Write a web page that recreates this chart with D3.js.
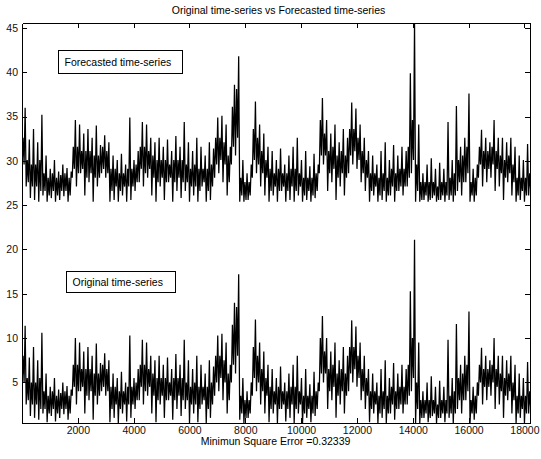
<!DOCTYPE html>
<html>
<head>
<meta charset="utf-8">
<script src="https://cdn.jsdelivr.net/npm/d3@7"></script>
<style>
  body { margin: 0; background: #fff; }
  svg text { font-family: "Liberation Sans", Arial, sans-serif; fill: #000; }
  .axis path, .axis line { stroke: #000; shape-rendering: crispEdges; }
  .axis text { font-size: 10.5px; fill: #111; }
</style>
</head>
<body>
<svg id="chart"></svg>
<script>
// each bin of 150 samples is read off the picture as: lowest value, highest value,
// and the dark core band (coreLow..coreHigh) where most of the samples sit
const binSize = 150;

const origLow = [
  4.5, 2.5, 1.2, 1.0, 0.8, 1.5, 0.5, 1.2, 0.6, 1.0,
  1.4, 0.8, 3.5, 2.5, 4.0, 1.5, 3.0, 0.8, 2.5, 4.0,
  3.5, 0.5, 1.0, 0.4, 1.5, 0.6, 1.0, 2.0, 3.0, 2.5,
  3.5, 1.5, 0.5, 2.5, 1.0, 3.0, 0.8, 2.0, 1.2, 2.0,
  0.4, 1.5, 0.5, 2.5, 0.4, 1.0, 3.5, 4.0, 3.0, 1.5,
  5.0, 6.0, 0.8, 0.4, 1.0, 3.5, 4.0, 2.5, 1.5, 0.5,
  1.5, 0.4, 2.0, 0.6, 1.0, 0.4, 1.5, 0.4, 1.0, 0.5,
  1.2, 4.0, 5.0, 2.0, 3.0, 1.0, 2.5, 1.5, 4.0, 5.0,
  4.5, 3.0, 2.0, 0.5, 1.5, 0.4, 1.0, 0.4, 1.5, 0.8,
  2.0, 1.5, 2.5, 4.0, 0.4, 0.4, 1.0, 0.5, 1.2, 0.4,
  1.0, 0.5, 1.0, 0.4, 2.0, 1.5, 3.0, 0.4, 0.8, 3.5,
  2.5, 3.0, 3.5, 2.0, 2.5, 1.0, 3.0, 1.5, 0.4, 1.0,
  0.4, 1.5
];
const origHigh = [
  11.4, 7.8, 9.0, 7.5, 10.6, 6.0, 4.5, 5.5, 4.2, 5.0,
  4.6, 4.2, 10.0, 9.5, 8.5, 9.0, 8.0, 9.4, 7.2, 8.3,
  7.5, 6.0, 5.5, 6.2, 5.0, 10.3, 5.5, 6.5, 9.8, 9.5,
  8.0, 7.5, 8.0, 7.0, 7.8, 6.5, 8.2, 7.0, 9.8, 7.5,
  6.5, 8.0, 7.0, 6.0, 7.5, 6.8, 10.3, 10.5, 9.5, 7.0,
  14.0, 17.2, 5.5, 4.0, 5.0, 12.1, 9.5, 8.5, 7.0, 6.5,
  5.5, 6.8, 5.0, 6.0, 7.0, 8.0, 5.5, 6.5, 4.8, 6.2,
  5.0, 12.5, 10.0, 8.5, 9.5, 7.5, 9.0, 8.0, 12.0, 11.3,
  9.5, 8.0, 6.5, 6.0, 5.0, 6.5, 7.5, 5.5, 7.2, 6.0,
  7.0, 6.5, 15.3, 21.1, 9.5, 4.0, 5.0, 5.7, 4.5, 5.2,
  4.5, 9.8, 5.5, 11.6, 7.0, 8.0, 13.0, 4.5, 5.0, 8.9,
  8.0, 7.5, 10.0, 8.0, 8.0, 7.5, 8.0, 7.0, 6.0, 5.5,
  7.3, 6.0
];
const origCoreLow = [
  5.0, 3.0, 2.5, 2.5, 2.0, 2.0, 1.5, 2.0, 1.5, 2.0,
  2.0, 1.5, 4.5, 4.0, 4.5, 3.5, 4.0, 3.5, 3.5, 4.5,
  4.0, 2.0, 2.5, 2.0, 2.5, 2.5, 2.5, 3.0, 4.5, 4.0,
  4.5, 3.5, 3.0, 3.5, 3.0, 3.5, 3.0, 3.5, 3.0, 3.0,
  2.5, 2.5, 2.0, 3.0, 2.0, 2.5, 5.0, 5.5, 5.0, 3.0,
  7.0, 8.0, 1.5, 1.0, 1.5, 5.5, 5.0, 4.0, 3.5, 2.0,
  2.5, 2.0, 2.5, 2.0, 2.5, 2.0, 2.5, 1.5, 2.0, 1.5,
  2.0, 6.0, 6.0, 4.0, 4.5, 3.5, 4.0, 3.5, 6.0, 6.5,
  5.5, 4.0, 3.5, 2.0, 2.5, 1.5, 2.0, 1.5, 2.5, 2.0,
  2.5, 2.5, 3.5, 5.5, 2.0, 1.0, 1.5, 1.0, 1.5, 1.0,
  1.5, 1.5, 1.5, 1.5, 3.0, 3.0, 4.0, 1.5, 1.5, 5.0,
  4.5, 4.5, 5.0, 4.5, 4.0, 3.5, 4.0, 3.0, 1.5, 2.0,
  1.5, 2.0
];
const origCoreHigh = [
  8.0, 5.5, 5.0, 5.0, 5.5, 4.0, 3.5, 4.0, 3.5, 3.8,
  4.0, 3.5, 7.0, 7.0, 6.5, 6.5, 6.5, 6.0, 6.0, 7.0,
  6.5, 4.5, 4.5, 4.0, 4.0, 4.5, 4.5, 5.0, 7.0, 7.0,
  6.5, 6.0, 5.5, 5.5, 5.5, 5.0, 5.5, 5.5, 5.5, 5.0,
  4.5, 5.0, 4.5, 4.5, 4.5, 5.0, 8.0, 8.0, 7.5, 6.0,
  11.5, 13.5, 3.5, 3.0, 3.0, 9.0, 8.0, 6.5, 5.5, 4.5,
  4.0, 4.5, 4.0, 4.0, 4.5, 4.5, 4.0, 3.5, 3.5, 3.5,
  4.0, 10.0, 8.5, 6.5, 7.0, 6.0, 6.5, 6.0, 9.0, 9.0,
  8.0, 6.5, 5.5, 4.0, 4.0, 3.5, 4.0, 3.5, 4.5, 4.0,
  4.5, 4.5, 7.0, 10.0, 5.0, 3.0, 3.0, 3.0, 3.0, 2.5,
  3.0, 3.0, 3.5, 4.0, 5.5, 6.0, 7.0, 3.0, 3.5, 7.0,
  6.5, 6.5, 7.0, 6.5, 6.0, 5.5, 6.0, 5.0, 3.5, 3.5,
  3.5, 4.0
];

const foreLow = [
  29.1, 27.1, 25.8, 25.6, 25.4, 26.1, 25.4, 25.8, 25.4, 25.6,
  26.0, 25.4, 28.1, 27.1, 28.6, 26.1, 27.6, 25.4, 27.1, 28.6,
  28.1, 25.4, 25.6, 25.4, 26.1, 25.4, 25.6, 26.6, 27.6, 27.1,
  28.1, 26.1, 25.4, 27.1, 25.6, 27.6, 25.4, 26.6, 25.8, 26.6,
  25.4, 26.1, 25.4, 27.1, 25.4, 25.6, 28.1, 28.6, 27.6, 26.1,
  29.6, 30.6, 25.4, 25.4, 25.6, 28.1, 28.6, 27.1, 26.1, 25.4,
  26.1, 25.4, 26.6, 25.4, 25.6, 25.4, 26.1, 25.4, 25.6, 25.4,
  25.8, 28.6, 29.6, 26.6, 27.6, 25.6, 27.1, 26.1, 28.6, 29.6,
  29.1, 27.6, 26.6, 25.4, 26.1, 25.4, 25.6, 25.4, 26.1, 25.4,
  26.6, 26.1, 27.1, 28.6, 25.4, 25.4, 25.6, 25.4, 25.8, 25.4,
  25.6, 25.4, 25.6, 25.4, 26.6, 26.1, 27.6, 25.4, 25.4, 28.1,
  27.1, 27.6, 28.1, 26.6, 27.1, 25.6, 27.6, 26.1, 25.4, 25.6,
  25.4, 26.1
];
const foreHigh = [
  36.0, 32.4, 33.6, 32.1, 35.2, 30.6, 29.1, 30.1, 28.8, 29.6,
  29.2, 28.8, 34.6, 34.1, 33.1, 33.6, 32.6, 34.0, 31.8, 32.9,
  32.1, 30.6, 30.1, 30.8, 29.6, 34.9, 30.1, 31.1, 34.4, 34.1,
  32.6, 32.1, 32.6, 31.6, 32.4, 31.1, 32.8, 31.6, 34.4, 32.1,
  31.1, 32.6, 31.6, 30.6, 32.1, 31.4, 34.9, 35.1, 34.1, 31.6,
  38.6, 41.8, 30.1, 28.6, 29.6, 36.7, 34.1, 33.1, 31.6, 31.1,
  30.1, 31.4, 29.6, 30.6, 31.6, 32.6, 30.1, 31.1, 29.4, 30.8,
  29.6, 37.1, 34.6, 33.1, 34.1, 32.1, 33.6, 32.6, 36.6, 35.9,
  34.1, 32.6, 31.1, 30.6, 29.6, 31.1, 32.1, 30.1, 31.8, 30.6,
  31.6, 31.1, 39.9, 45.7, 34.1, 28.6, 29.6, 30.3, 29.1, 29.8,
  29.1, 34.4, 30.1, 36.2, 31.6, 32.6, 37.6, 29.1, 29.6, 33.5,
  32.6, 32.1, 34.6, 32.6, 32.6, 32.1, 32.6, 31.6, 30.6, 30.1,
  31.9, 30.6
];
const foreCoreLow = [
  29.6, 27.6, 27.1, 27.1, 26.6, 26.6, 26.1, 26.6, 26.1, 26.6,
  26.6, 26.1, 29.1, 28.6, 29.1, 28.1, 28.6, 28.1, 28.1, 29.1,
  28.6, 26.6, 27.1, 26.6, 27.1, 27.1, 27.1, 27.6, 29.1, 28.6,
  29.1, 28.1, 27.6, 28.1, 27.6, 28.1, 27.6, 28.1, 27.6, 27.6,
  27.1, 27.1, 26.6, 27.6, 26.6, 27.1, 29.6, 30.1, 29.6, 27.6,
  31.6, 32.6, 26.1, 25.6, 26.1, 30.1, 29.6, 28.6, 28.1, 26.6,
  27.1, 26.6, 27.1, 26.6, 27.1, 26.6, 27.1, 26.1, 26.6, 26.1,
  26.6, 30.6, 30.6, 28.6, 29.1, 28.1, 28.6, 28.1, 30.6, 31.1,
  30.1, 28.6, 28.1, 26.6, 27.1, 26.1, 26.6, 26.1, 27.1, 26.6,
  27.1, 27.1, 28.1, 30.1, 26.6, 25.6, 26.1, 25.6, 26.1, 25.6,
  26.1, 26.1, 26.1, 26.1, 27.6, 27.6, 28.6, 26.1, 26.1, 29.6,
  29.1, 29.1, 29.6, 29.1, 28.6, 28.1, 28.6, 27.6, 26.1, 26.6,
  26.1, 26.6
];
const foreCoreHigh = [
  32.6, 30.1, 29.6, 29.6, 30.1, 28.6, 28.1, 28.6, 28.1, 28.4,
  28.6, 28.1, 31.6, 31.6, 31.1, 31.1, 31.1, 30.6, 30.6, 31.6,
  31.1, 29.1, 29.1, 28.6, 28.6, 29.1, 29.1, 29.6, 31.6, 31.6,
  31.1, 30.6, 30.1, 30.1, 30.1, 29.6, 30.1, 30.1, 30.1, 29.6,
  29.1, 29.6, 29.1, 29.1, 29.1, 29.6, 32.6, 32.6, 32.1, 30.6,
  36.1, 38.1, 28.1, 27.6, 27.6, 33.6, 32.6, 31.1, 30.1, 29.1,
  28.6, 29.1, 28.6, 28.6, 29.1, 29.1, 28.6, 28.1, 28.1, 28.1,
  28.6, 34.6, 33.1, 31.1, 31.6, 30.6, 31.1, 30.6, 33.6, 33.6,
  32.6, 31.1, 30.1, 28.6, 28.6, 28.1, 28.6, 28.1, 29.1, 28.6,
  29.1, 29.1, 31.6, 34.6, 29.6, 27.6, 27.6, 27.6, 27.6, 27.1,
  27.6, 27.6, 28.1, 28.6, 30.1, 30.6, 31.6, 27.6, 28.1, 31.6,
  31.1, 31.1, 31.6, 31.1, 30.6, 30.1, 30.6, 29.6, 28.1, 28.1,
  28.1, 28.6
];

const xDomain = [1, 18200];
const yDomain = [0.42, 45.56];
const xTicks = [2000, 4000, 6000, 8000, 10000, 12000, 14000, 16000, 18000];
const yTicks = [5, 10, 15, 20, 25, 30, 35, 40, 45];

const titleText = 'Original time-series vs Forecasted time-series';
const xLabelText = 'Minimun Square Error =0.32339';
const boxLabels = ['Forecasted time-series', 'Original time-series'];

class SeriesChart {

  constructor(_config, _series) {
    this.config = {
      parentElement: _config.parentElement,
      containerWidth: _config.containerWidth || 541,
      containerHeight: _config.containerHeight || 459,
      margin: _config.margin || {top: 23, right: 11, bottom: 36, left: 22}
    }
    this.series = _series;
    this.initVis();
  }

  initVis() {
    let vis = this;

    vis.svg = d3.select(vis.config.parentElement)
        .attr('width', vis.config.containerWidth)
        .attr('height', vis.config.containerHeight);

    vis.width = vis.config.containerWidth - vis.config.margin.left - vis.config.margin.right;
    vis.height = vis.config.containerHeight - vis.config.margin.top - vis.config.margin.bottom;

    vis.chartArea = vis.svg.append('g')
        .attr('transform', `translate(${vis.config.margin.left},${vis.config.margin.top})`);

    vis.xScale = d3.scaleLinear().domain(xDomain).range([0, vis.width]);
    vis.yScale = d3.scaleLinear().domain(yDomain).range([vis.height, 0]);

    vis.chartArea.append('clipPath')
        .attr('id', 'plot-clip')
      .append('rect')
        .attr('width', vis.width + 1)
        .attr('height', vis.height + 1);

    vis.chart = vis.chartArea.append('g')
        .attr('clip-path', 'url(#plot-clip)');

    vis.line = d3.line()
        .x(d => vis.xScale(d.t))
        .y(d => vis.yScale(d.v));

    vis.renderVis();
  }

  renderVis() {
    let vis = this;

    // inside a bin the trace goes low -> core top -> core bottom -> high
    const step = binSize / 4;
    const points = s => s.low.flatMap((lo, i) => {
      const t0 = xDomain[0] + i * binSize;
      return [
        {t: t0, v: lo},
        {t: t0 + step, v: s.coreHigh[i]},
        {t: t0 + 2 * step, v: s.coreLow[i]},
        {t: t0 + 3 * step, v: s.high[i]}
      ];
    });

    vis.chart.selectAll('.series')
        .data(vis.series)
        .join('path')
        .attr('class', 'series')
        .attr('fill', 'none')
        .attr('stroke', '#000')
        .attr('stroke-width', 1.25)
        .attr('stroke-linejoin', 'miter')
        .attr('stroke-miterlimit', 2)
        .attr('d', s => vis.line(points(s)));

    // box with inward ticks on all four sides
    vis.chartArea.append('g')
        .attr('class', 'axis x-axis')
        .attr('transform', `translate(0,${vis.height})`)
        .call(d3.axisBottom(vis.xScale).tickValues(xTicks).tickFormat(d3.format('d'))
          .tickSize(-5).tickSizeOuter(0).tickPadding(4));
    vis.chartArea.append('g')
        .attr('class', 'axis')
        .call(d3.axisTop(vis.xScale).tickValues(xTicks).tickSize(-5).tickSizeOuter(0).tickFormat(''));
    vis.chartArea.append('g')
        .attr('class', 'axis y-axis')
        .call(d3.axisLeft(vis.yScale).tickValues(yTicks).tickFormat(d3.format('d'))
          .tickSize(-5).tickSizeOuter(0).tickPadding(4));
    vis.chartArea.append('g')
        .attr('class', 'axis')
        .attr('transform', `translate(${vis.width},0)`)
        .call(d3.axisRight(vis.yScale).tickValues(yTicks).tickSize(-5).tickSizeOuter(0).tickFormat(''));

    vis.svg.append('text')
        .attr('x', 278.5)
        .attr('y', 14)
        .style('text-anchor', 'middle')
        .style('font-size', '10.5px')
        .text(titleText);

    vis.svg.append('text')
        .attr('x', 275.5)
        .attr('y', 445)
        .style('text-anchor', 'middle')
        .style('font-size', '10.5px')
        .text(xLabelText);

    // text boxes naming the two series
    const boxes = vis.chartArea.selectAll('.label-box')
        .data(vis.series)
        .join('g')
        .attr('class', 'label-box')
        .attr('transform', s => `translate(${s.boxX},${s.boxY})`);
    boxes.append('rect')
        .attr('x', 0.5)
        .attr('y', 0.5)
        .attr('width', s => s.boxW)
        .attr('height', s => s.boxH)
        .attr('fill', '#fff')
        .attr('stroke', '#000')
        .style('shape-rendering', 'crispEdges');
    boxes.append('text')
        .attr('x', 6.5)
        .attr('y', s => s.boxH / 2 + 4.5)
        .style('font-size', '10.5px')
        .text(s => s.label);
  }

}

const chart = new SeriesChart({parentElement: '#chart'}, [
  {label: boxLabels[0], low: foreLow, high: foreHigh, coreLow: foreCoreLow, coreHigh: foreCoreHigh,
   boxX: 36, boxY: 27, boxW: 124, boxH: 23},
  {label: boxLabels[1], low: origLow, high: origHigh, coreLow: origCoreLow, coreHigh: origCoreHigh,
   boxX: 44, boxY: 248, boxW: 109, boxH: 21}
]);
</script>
</body>
</html>
